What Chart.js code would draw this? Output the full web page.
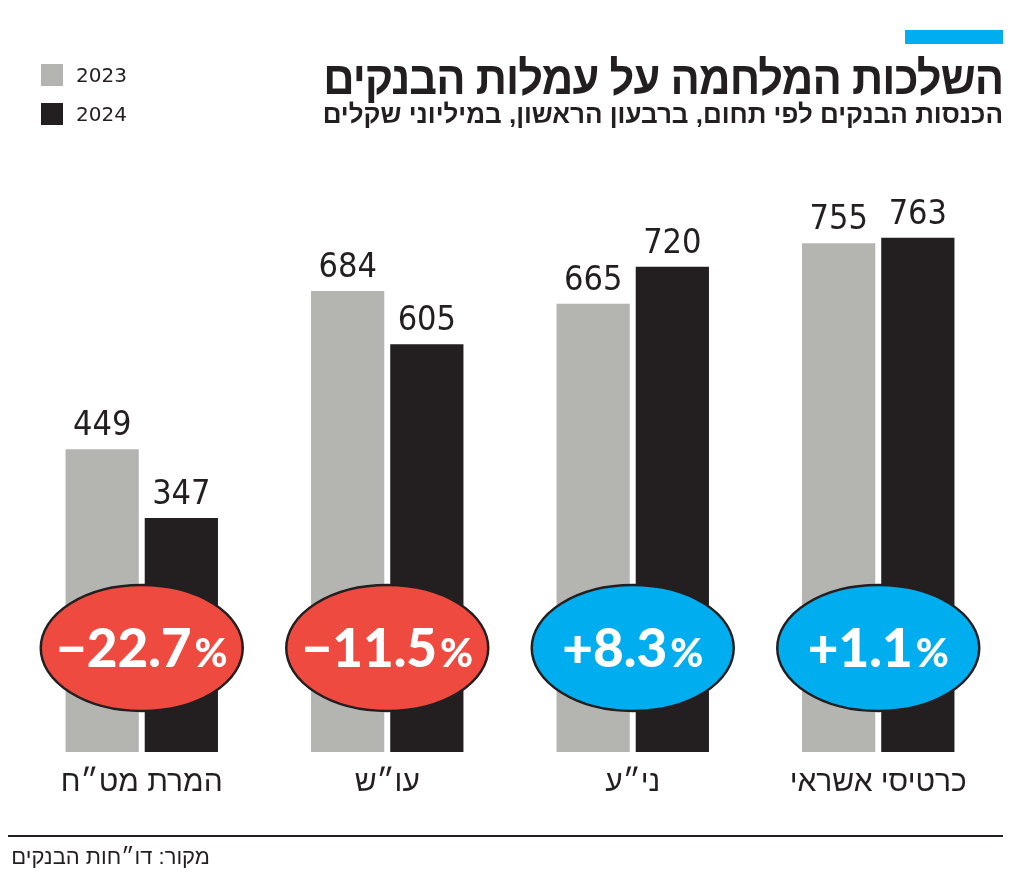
<!DOCTYPE html>
<html lang="he">
<head>
<meta charset="UTF-8">
<title>השלכות המלחמה על עמלות הבנקים</title>
<script src="https://cdn.jsdelivr.net/npm/chart.js@4.4.1/dist/chart.umd.min.js"></script>
<style>
  body { margin: 0; background: #fff; }
  #wrap { position: relative; width: 1024px; height: 878px; overflow: hidden; }
  #chart { position: absolute; left: 0; top: 0; }
  .txt { position: absolute; color: #231f20; white-space: nowrap; }
  #bluebar { position: absolute; left: 905px; top: 30px; width: 98px; height: 14px; background: #00aeef; }
  #title { right: 21px; top: 50px; font: bold 47px "Liberation Sans", sans-serif; direction: rtl; letter-spacing: -1px; transform: scaleX(0.925); transform-origin: right center; }
  #subtitle { right: 21px; top: 99px; font: bold 26px "Liberation Sans", sans-serif; direction: rtl; }
  .leg { position: absolute; left: 41px; width: 22px; height: 22px; }
  .legtxt { left: 76px; font: 20px "DejaVu Sans", sans-serif; }
  #rule { position: absolute; left: 8px; top: 835px; width: 995px; height: 2px; background: #231f20; }
  #source { right: 814px; top: 844px; font: 22px "Liberation Sans", sans-serif; direction: rtl; }
</style>
</head>
<body>
<div id="wrap">
  <canvas id="chart" width="1024" height="878"></canvas>
  <div id="bluebar"></div>
  <div class="txt" id="title">השלכות המלחמה על עמלות הבנקים</div>
  <div class="txt" id="subtitle">הכנסות הבנקים לפי תחום, ברבעון הראשון, במיליוני שקלים</div>
  <div class="leg" style="top:64px;background:#b4b4b1"></div>
  <div class="txt legtxt" style="top:63px">2023</div>
  <div class="leg" style="top:103px;background:#231f20"></div>
  <div class="txt legtxt" style="top:102px">2024</div>
  <div id="rule"></div>
  <div class="txt" id="source">מקור: דו״חות הבנקים</div>
</div>
<script>
const categories = ['המרת מט״ח', 'עו״ש', 'ני״ע', 'כרטיסי אשראי'];
const values2023 = [449, 684, 665, 755];
const values2024 = [347, 605, 720, 763];
const changeLabels = ['−22.7', '−11.5', '+8.3', '+1.1'];
const changeColors = ['#ef4a3f', '#ef4a3f', '#00aeef', '#00aeef'];

const extras = {
  id: 'extras',
  afterDatasetsDraw(chart) {
    const ctx = chart.ctx;
    const x = chart.scales.x;
    ctx.save();
    // value labels above bars
    ctx.fillStyle = '#231f20';
    ctx.font = '34px "DejaVu Sans Condensed", "DejaVu Sans", sans-serif';
    ctx.textAlign = 'center';
    ctx.textBaseline = 'alphabetic';
    chart.data.datasets.forEach((ds, di) => {
      chart.getDatasetMeta(di).data.forEach((bar, i) => {
        ctx.fillText(String(ds.data[i]), bar.x, bar.y - 14);
      });
    });
    // ellipses with percent change
    categories.forEach((c, i) => {
      const cx = x.getPixelForValue(i);
      const cy = 648;
      ctx.beginPath();
      ctx.ellipse(cx, cy, 101, 63, 0, 0, Math.PI * 2);
      ctx.fillStyle = changeColors[i];
      ctx.fill();
      ctx.lineWidth = 2.5;
      ctx.strokeStyle = '#231f20';
      ctx.stroke();
      ctx.fillStyle = '#fff';
      const main = changeLabels[i];
      ctx.font = '900 53px Lato, sans-serif';
      const w1 = ctx.measureText(main).width;
      ctx.font = '900 40px Lato, sans-serif';
      const w2 = ctx.measureText('%').width;
      const left = cx - (w1 + w2 + 3) / 2;
      ctx.textAlign = 'left';
      ctx.font = '900 53px Lato, sans-serif';
      ctx.fillText(main, left, cy + 19);
      ctx.font = '900 40px Lato, sans-serif';
      ctx.fillText('%', left + w1 + 3, cy + 19);
    });
    // category labels
    ctx.fillStyle = '#231f20';
    ctx.textAlign = 'center';
    ctx.font = '30px "Liberation Sans Narrow", "Liberation Sans", sans-serif';
    categories.forEach((c, i) => {
      ctx.fillText(c, x.getPixelForValue(i), 791);
    });
    ctx.restore();
  }
};

new Chart(document.getElementById('chart'), {
  type: 'bar',
  data: {
    labels: categories,
    datasets: [
      { label: '2023', data: values2023, backgroundColor: '#b4b4b1' },
      { label: '2024', data: values2024, backgroundColor: '#231f20' }
    ]
  },
  options: {
    responsive: false,
    animation: false,
    devicePixelRatio: 1,
    layout: { padding: { left: 19, right: 23, top: 78, bottom: 126 } },
    datasets: { bar: { categoryPercentage: 0.645, barPercentage: 0.925 } },
    scales: {
      x: { display: false },
      y: { display: false, min: 0, max: 1000 }
    },
    plugins: { legend: { display: false }, tooltip: { enabled: false } }
  },
  plugins: [extras]
});
</script>
</body>
</html>
